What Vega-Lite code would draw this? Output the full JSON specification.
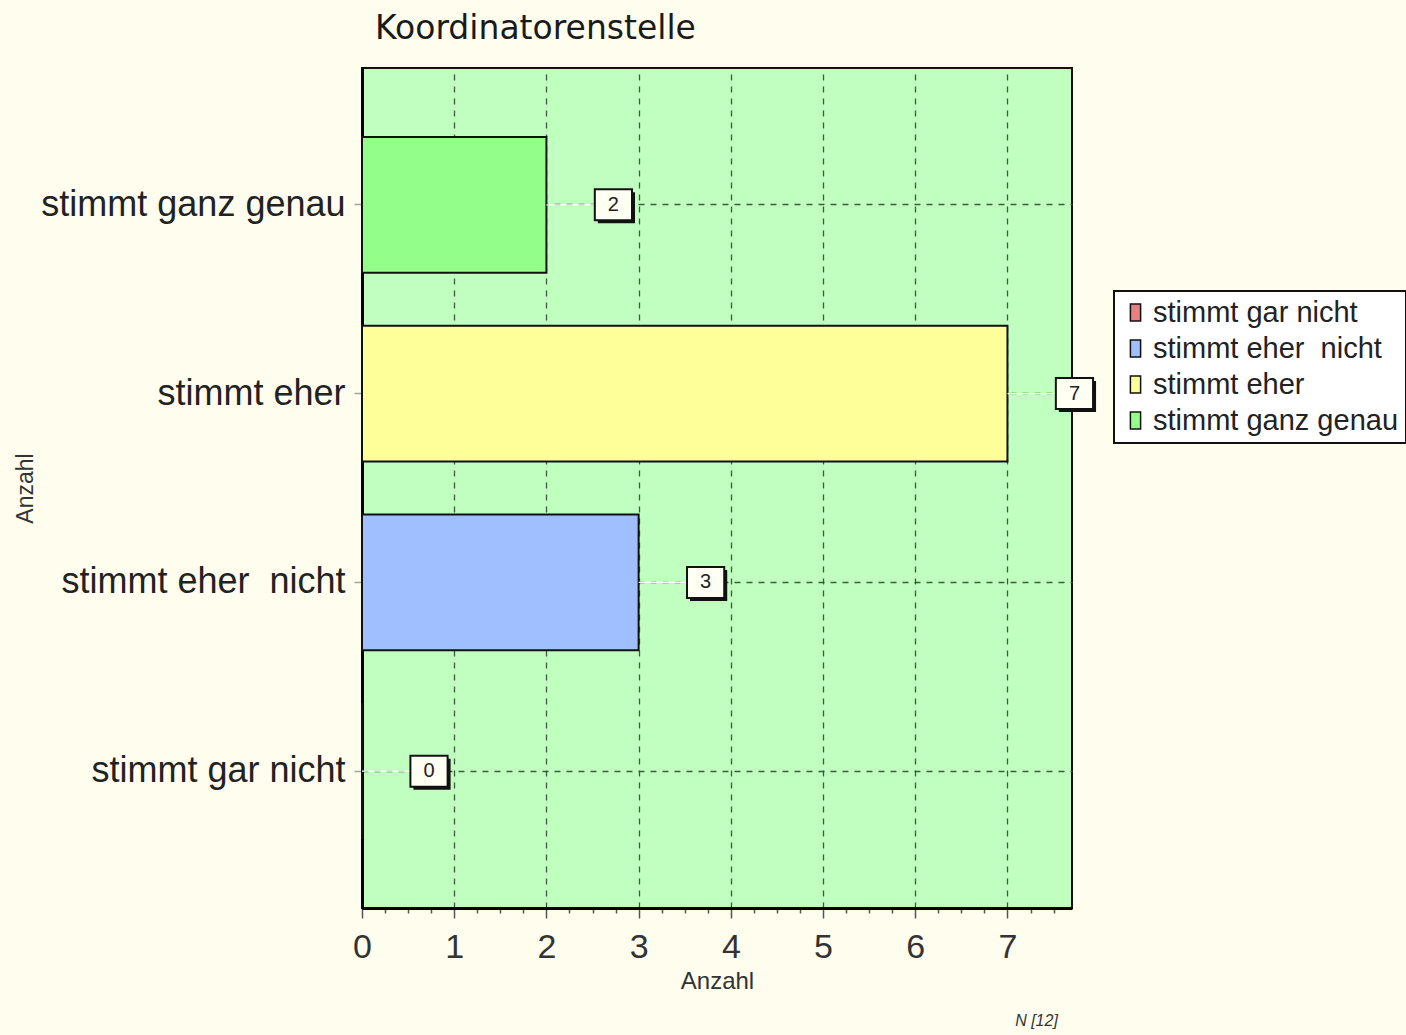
{
  "$schema": "https://vega.github.io/schema/vega-lite/v6.json",
  "width": 710,
  "height": 840,
  "autosize": {"type": "none"},
  "padding": {"left": 362, "top": 68, "right": 334, "bottom": 127},
  "background": "#FFFEEE",
  "title": {
    "text": "Koordinatorenstelle",
    "font": "DejaVu Sans",
    "fontSize": 33,
    "fontWeight": "normal",
    "color": "#1a1a1a",
    "anchor": "start",
    "frame": "group",
    "dx": 13,
    "baseline": "alphabetic",
    "offset": -4
  },
  "config": {
    "view": {"fill": "#C0FFC0", "stroke": "#111111", "strokeWidth": 2}
  },
  "data": {
    "values": [
      {"Antwort": "stimmt ganz genau", "Anzahl": 2},
      {"Antwort": "stimmt eher", "Anzahl": 7},
      {"Antwort": "stimmt eher\u00a0 nicht", "Anzahl": 3},
      {"Antwort": "stimmt gar nicht", "Anzahl": 0}
    ]
  },
  "resolve": {"axis": {"x": "independent"}},
  "layer": [
    {
      "mark": {"type": "bar", "stroke": "#111111", "strokeWidth": 2},
      "encoding": {
        "y": {
          "field": "Antwort",
          "type": "nominal",
          "sort": ["stimmt ganz genau", "stimmt eher", "stimmt eher\u00a0 nicht", "stimmt gar nicht"],
          "scale": {"paddingInner": 0.28, "paddingOuter": 0.365},
          "axis": {
            "title": "Anzahl",
            "titleFont": "Liberation Sans",
            "titleFontSize": 23,
            "titleFontWeight": "normal",
            "titleColor": "#333333",
            "titleX": -337,
            "titleY": 420,
            "titleAngle": -90,
            "titleAlign": "center",
            "titleBaseline": "middle",
            "labelFont": "Liberation Sans",
            "labelFontSize": 36,
            "labelColor": "#222222",
            "labelPadding": 9,
            "labelLimit": 400,
            "tickSize": 8,
            "tickColor": "#9aa89a",
            "tickWidth": 1.5,
            "bandPosition": 0.5,
            "domainColor": "#000000",
            "domainWidth": 3,
            "grid": true,
            "gridColor": "#3c5a3c",
            "gridDash": [6, 6],
            "gridWidth": 1.3
          }
        },
        "x": {
          "field": "Anzahl",
          "type": "quantitative",
          "scale": {"domain": [0, 7.7], "nice": false},
          "axis": {
            "orient": "bottom",
            "title": "Anzahl",
            "titleFont": "Liberation Sans",
            "titleFontSize": 24,
            "titleFontWeight": "normal",
            "titleColor": "#333333",
            "titleX": 355,
            "titleY": 73,
            "titleAlign": "center",
            "titleBaseline": "middle",
            "values": [0, 0.25, 0.5, 0.75, 1, 1.25, 1.5, 1.75, 2, 2.25, 2.5, 2.75, 3, 3.25, 3.5, 3.75, 4, 4.25, 4.5, 4.75, 5, 5.25, 5.5, 5.75, 6, 6.25, 6.5, 6.75, 7, 7.25, 7.5],
            "labelExpr": "datum.value % 1 === 0 ? format(datum.value, 'd') : ''",
            "labelFont": "Liberation Sans",
            "labelFontSize": 34,
            "labelColor": "#333333",
            "labelPadding": 12,
            "labelFlush": false,
            "tickSize": {"condition": {"test": "datum.value % 1 === 0", "value": 10}, "value": 5},
            "tickColor": "#555555",
            "tickWidth": 1.5,
            "domainColor": "#000000",
            "domainWidth": 3,
            "grid": true,
            "gridColor": "#3c5a3c",
            "gridDash": [6, 6],
            "gridWidth": 1.3,
            "gridOpacity": {"condition": {"test": "datum.value % 1 === 0", "value": 1}, "value": 0}
          }
        },
        "color": {
          "field": "Antwort",
          "type": "nominal",
          "scale": {
            "domain": ["stimmt gar nicht", "stimmt eher\u00a0 nicht", "stimmt eher", "stimmt ganz genau"],
            "range": ["#E88080", "#A0BFFF", "#FFFF99", "#93FF88"]
          },
          "legend": {
            "title": null,
            "orient": "none",
            "legendX": 752,
            "legendY": 223,
            "fillColor": "#FFFFFF",
            "strokeColor": "#111111",
            "padding": 7,
            "symbolType": "M-0.6,-1H0.6V1H-0.6Z",
            "symbolSize": 289,
            "symbolStrokeColor": "#111111",
            "symbolStrokeWidth": 1.5,
            "labelFont": "Liberation Sans",
            "labelFontSize": 29,
            "labelColor": "#222222",
            "labelOffset": 3,
            "labelLimit": 400,
            "rowPadding": 6,
            "encode": {"legend": {"update": {"strokeWidth": {"value": 2}}}}
          }
        }
      }
    },
    {
      "mark": {"type": "rule", "color": "#FFFFFF", "strokeWidth": 1.2, "x2Offset": 48},
      "encoding": {
        "y": {"field": "Antwort", "type": "nominal", "sort": ["stimmt ganz genau", "stimmt eher", "stimmt eher\u00a0 nicht", "stimmt gar nicht"]},
        "x": {
          "field": "Anzahl",
          "type": "quantitative",
          "axis": {
            "orient": "bottom",
            "title": "N [12]",
            "titleFont": "Liberation Sans",
            "titleFontSize": 16,
            "titleFontStyle": "italic",
            "titleFontWeight": "normal",
            "titleColor": "#333333",
            "titleX": 674,
            "titleY": 112,
            "titleAlign": "center",
            "titleBaseline": "middle",
            "labels": false,
            "ticks": false,
            "domain": false,
            "grid": false
          }
        },
        "x2": {"field": "Anzahl"}
      }
    },
    {
      "mark": {"type": "point", "shape": "M-1.2,-1H1.2V1H-1.2Z", "size": 961, "filled": true, "fill": "#111111", "opacity": 1, "xOffset": 70, "yOffset": 3},
      "encoding": {
        "y": {"field": "Antwort", "type": "nominal", "sort": ["stimmt ganz genau", "stimmt eher", "stimmt eher\u00a0 nicht", "stimmt gar nicht"]},
        "x": {"field": "Anzahl", "type": "quantitative", "axis": null}
      }
    },
    {
      "mark": {"type": "point", "shape": "M-1.2,-1H1.2V1H-1.2Z", "size": 961, "filled": true, "fill": "#FFFFF4", "stroke": "#111111", "strokeWidth": 2, "opacity": 1, "xOffset": 67},
      "encoding": {
        "y": {"field": "Antwort", "type": "nominal", "sort": ["stimmt ganz genau", "stimmt eher", "stimmt eher\u00a0 nicht", "stimmt gar nicht"]},
        "x": {"field": "Anzahl", "type": "quantitative", "axis": null}
      }
    },
    {
      "mark": {"type": "text", "font": "Liberation Sans", "fontSize": 20, "color": "#222222", "xOffset": 67, "align": "center", "baseline": "middle"},
      "encoding": {
        "y": {"field": "Antwort", "type": "nominal", "sort": ["stimmt ganz genau", "stimmt eher", "stimmt eher\u00a0 nicht", "stimmt gar nicht"]},
        "x": {"field": "Anzahl", "type": "quantitative", "axis": null},
        "text": {"field": "Anzahl", "type": "quantitative"}
      }
    }
  ]
}
